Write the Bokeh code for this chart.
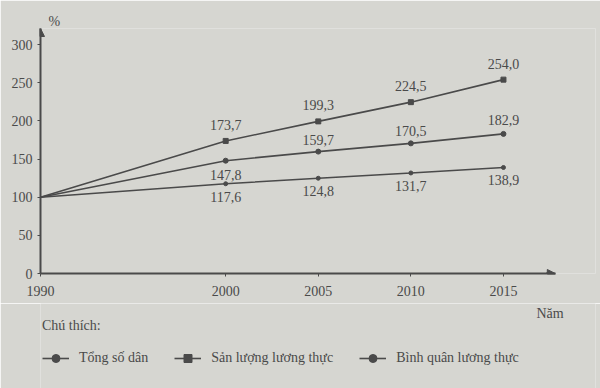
import numpy as np
from bokeh.plotting import figure
from bokeh.layouts import column
from bokeh.models import (Legend, LegendItem, Title, Label, Arrow, NormalHead,
                          FixedTicker, ColumnDataSource)
from bokeh.core.properties import value
from bokeh.embed import file_html
from bokeh.resources import INLINE

years = [1990, 2000, 2005, 2010, 2015]
san_luong = [100, 173.7, 199.3, 224.5, 254.0]
binh_quan = [100, 147.8, 159.7, 170.5, 182.9]
tong_dan = [100, 117.6, 124.8, 131.7, 138.9]
lbl_san_luong = ["", "173,7", "199,3", "224,5", "254,0"]
lbl_binh_quan = ["", "147,8", "159,7", "170,5", "182,9"]
lbl_tong_dan = ["", "117,6", "124,8", "131,7", "138,9"]
y_ticks = [0, 50, 100, 150, 200, 250, 300]
series_names = ["Tổng số dân", "Sản lượng lương thực", "Bình quân lương thực"]

FONT = "Liberation Serif"
INK = "#4a4a4a"
BG = "#d6d6d1"

X_END = 2017.8   # end of the x axis (arrow tip)

H1 = 303
p = figure(width=600, height=H1, output_backend="svg", toolbar_location=None,
           x_range=(1990, 2019.97), y_range=(0, 321),
           min_border_left=40, min_border_right=5, min_border_top=28,
           min_border_bottom=H1 - 273)
p.background_fill_color = BG
p.border_fill_color = BG
p.outline_line_color = None
p.grid.visible = False

for ax in (p.xaxis[0], p.yaxis[0]):
    ax.axis_line_color = INK
    ax.axis_line_width = 2
    ax.major_tick_line_color = INK
    ax.minor_tick_line_color = None
    ax.major_label_text_font = FONT
    ax.major_label_text_font_size = "14px"
    ax.major_label_text_color = INK
    ax.major_tick_in = 0
    ax.major_tick_out = 3

p.xaxis.ticker = FixedTicker(ticks=years)
p.xaxis.bounds = (1990, X_END)
p.yaxis.ticker = FixedTicker(ticks=y_ticks)
p.xaxis.major_label_standoff = 9
p.yaxis.major_label_standoff = 5

# arrow heads on the axes
p.add_layout(Arrow(end=NormalHead(size=8, fill_color=INK, line_color=INK),
                   x_start=X_END - 0.5, y_start=0, x_end=X_END, y_end=0,
                   line_color=INK, line_width=2))
p.add_layout(Arrow(end=NormalHead(size=8, fill_color=INK, line_color=INK),
                   x_start=1990, y_start=310, x_end=1990, y_end=321,
                   line_color=INK, line_width=2))

p.line(years, tong_dan, line_color=INK, line_width=1.6)
p.scatter(years[1:], tong_dan[1:], marker="circle", size=4, color=INK)
p.line(years, san_luong, line_color=INK, line_width=1.6)
p.scatter(years[1:], san_luong[1:], marker="square", size=5, color=INK)
p.line(years, binh_quan, line_color=INK, line_width=1.6)
p.scatter(years[1:], binh_quan[1:], marker="circle", size=5, color=INK)

def labels(ys, txt, dy):
    src = ColumnDataSource(dict(x=years, y=ys, t=txt, dy=dy))
    p.text("x", "y", "t", source=src, text_font=value(FONT),
           text_font_size="14px", text_color=INK, text_align="center",
           text_baseline="middle", y_offset="dy")

labels(san_luong, lbl_san_luong, [0, -16, -16, -16, -16])
labels(tong_dan, lbl_tong_dan, [0, 13, 13, 13, 13])
labels(binh_quan, lbl_binh_quan, [0, 14, -12, -12, -14])

# "%" unit at the top of the y axis
p.add_layout(Title(text="%", align="left", offset=8, standoff=0,
                   text_font=FONT, text_font_size="14px",
                   text_font_style="normal", text_color=INK), "above")

# ---- legend strip (second figure, frame aligned with the chart) ----
H2 = 388 - H1
q = figure(width=600, height=H2, output_backend="svg", toolbar_location=None,
           x_range=p.x_range, y_range=(0, H2), x_axis_type=None, y_axis_type=None,
           min_border_left=40, min_border_right=5,
           min_border_top=0, min_border_bottom=0)
q.background_fill_color = BG
q.border_fill_color = BG
q.outline_line_color = None
q.grid.visible = False

q.add_layout(Label(x=years[-1], y=H2 - 10, x_offset=33, text="Năm",
                   text_font=FONT, text_font_size="14px", text_color=INK,
                   text_baseline="middle"))

nan = [np.nan]
g_dan = [q.line(x=nan, y=nan, line_color=INK, line_width=1.6),
         q.scatter(x=nan, y=nan, marker="circle", size=4, color=INK)]
g_sl = [q.line(x=nan, y=nan, line_color=INK, line_width=1.6),
        q.scatter(x=nan, y=nan, marker="square", size=5, color=INK)]
g_bq = [q.line(x=nan, y=nan, line_color=INK, line_width=1.6),
        q.scatter(x=nan, y=nan, marker="circle", size=5, color=INK)]

legend = Legend(items=[
    LegendItem(label=series_names[0], renderers=g_dan),
    LegendItem(label=series_names[1], renderers=g_sl),
    LegendItem(label=series_names[2], renderers=g_bq),
], orientation="horizontal", location=(2, 20), title="Chú thích:",
   title_text_font=FONT, title_text_font_size="14px", title_text_color=INK,
   title_text_font_style="normal", title_standoff=14,
   label_text_font=FONT, label_text_font_size="14px", label_text_color=INK,
   glyph_width=27, label_standoff=10, spacing=26,
   background_fill_alpha=0, border_line_color=None, padding=0, margin=0)
q.add_layout(legend, "center")

layout = column(p, q, spacing=0)
open("out.html", "w").write(file_html(layout, INLINE))
